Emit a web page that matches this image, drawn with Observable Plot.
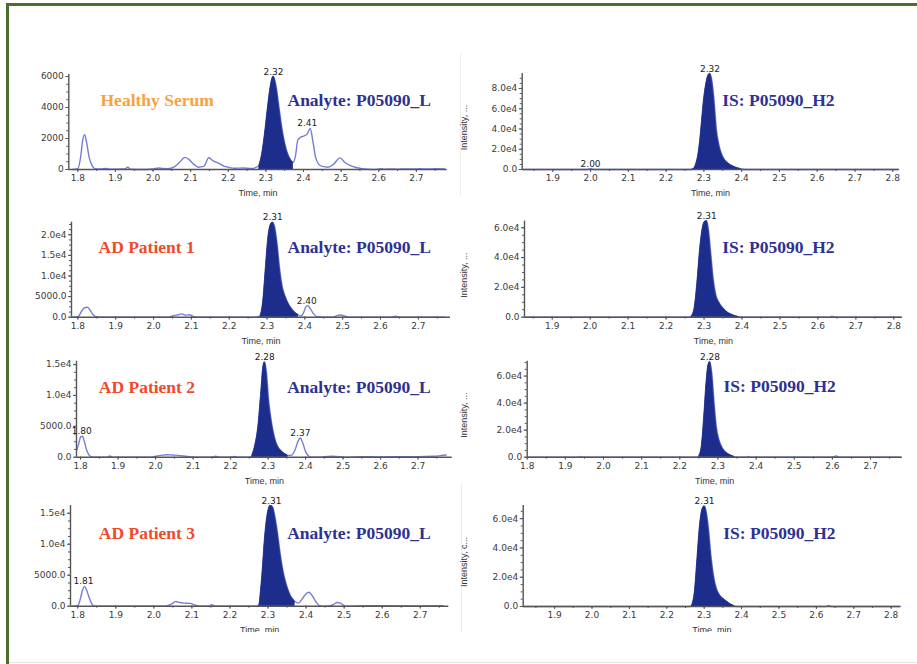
<!DOCTYPE html>
<html><head><meta charset="utf-8">
<script src="https://cdn.jsdelivr.net/npm/d3@7"></script>
<script src="https://cdn.jsdelivr.net/npm/@observablehq/plot@0.6"></script>
<style>
html,body{margin:0;padding:0;background:#fff;}
#page{position:relative;width:917px;height:664px;overflow:hidden;background:#fff;}
.cell{position:absolute;overflow:hidden;}
.deco{position:absolute;}
</style></head><body>
<div id="page"></div>
<script>
// ---------- DATA ----------
const samples = ["Healthy Serum", "AD Patient 1", "AD Patient 2", "AD Patient 3"];
const sampleColors = ["#f6a23f", "#ef4a2b", "#ef4a2b", "#ef4a2b"];
const analyteTitle = "Analyte: P05090_L";
const isTitle = "IS: P05090_H2";
const xAxisTitle = "Time, min";
const yAxisTitles = ["Intensity, ...", "Intensity, ...", "Intensity, ...", "Intensity, c..."];

const xTicksA = [1.8, 1.9, 2.0, 2.1, 2.2, 2.3, 2.4, 2.5, 2.6, 2.7];
const xTicksB = [1.9, 2.0, 2.1, 2.2, 2.3, 2.4, 2.5, 2.6, 2.7, 2.8];

const yTicksHealthy = [0, 2000, 4000, 6000];
const yLabelsHealthy = ["0", "2000", "4000", "6000"];
const yTicksIS8 = [0, 20000, 40000, 60000, 80000];
const yLabelsIS8 = ["0.0", "2.0e4", "4.0e4", "6.0e4", "8.0e4"];
const yTicksIS6 = [0, 20000, 40000, 60000];
const yLabelsIS6 = ["0.0", "2.0e4", "4.0e4", "6.0e4"];
const yTicksAd1 = [0, 5000, 10000, 15000, 20000];
const yLabelsAd1 = ["0.0", "5000.0", "1.0e4", "1.5e4", "2.0e4"];
const yTicksAd23 = [0, 5000, 10000, 15000];
const yLabelsAd23 = ["0.0", "5000.0", "1.0e4", "1.5e4"];

// Healthy serum, analyte
const healthyAnalyteTime = [1.785,1.800,1.808,1.813,1.818,1.823,1.830,1.838,1.845,1.860,1.875,1.890,1.925,1.933,1.940,1.980,2.000,2.015,2.025,2.040,2.055,2.070,2.085,2.095,2.110,2.120,2.135,2.148,2.160,2.175,2.190,2.200,2.215,2.240,2.260,2.275,2.283,2.290,2.297,2.305,2.313,2.320,2.327,2.335,2.343,2.350,2.358,2.365,2.372,2.378,2.385,2.393,2.400,2.410,2.418,2.425,2.432,2.440,2.450,2.465,2.480,2.497,2.510,2.525,2.540,2.555,2.570,2.590,2.605,2.615,2.630,2.650,2.670,2.690,2.710,2.730,2.750,2.775];
const healthyAnalyteInt  = [0,50,900,1900,2250,1800,800,250,60,30,60,20,30,150,20,0,30,100,60,50,150,450,780,650,300,150,200,760,550,400,200,150,80,100,60,150,300,1000,2200,3900,5400,6000,5400,4000,2600,1700,1000,650,450,800,1900,2100,2150,2300,2650,1800,800,350,200,150,350,750,450,250,130,60,20,0,50,20,40,20,40,30,50,30,50,40];
const healthyAnalyteFill = [2.283, 2.372];
const healthyAnalytePeaks = [{t: 2.320, v: 6000, label: "2.32"}, {t: 2.410, v: 2650, label: "2.41"}];

// Healthy serum, internal standard
const healthyIsTime = [1.820,1.990,1.995,2.000,2.005,2.010,2.270,2.275,2.280,2.285,2.290,2.295,2.300,2.306,2.312,2.316,2.321,2.327,2.333,2.340,2.347,2.355,2.363,2.372,2.380,2.390,2.398,2.410,2.816];
const healthyIsInt  = [0,0,400,800,300,0,0,1500,6000,14000,28000,48000,68000,84000,93000,94500,88000,68000,40000,24000,15000,9500,6500,4000,2500,1200,500,0,0];
const healthyIsFill = [2.270, 2.400];
const healthyIsPeaks = [{t: 2.316, v: 94500, label: "2.32"}, {t: 2.000, v: 800, label: "2.00"}];

// AD patient 1, analyte
const ad1AnalyteTime = [1.785,1.800,1.810,1.818,1.825,1.833,1.840,1.848,1.860,2.040,2.050,2.065,2.075,2.085,2.095,2.105,2.115,2.270,2.283,2.290,2.296,2.303,2.310,2.315,2.321,2.327,2.333,2.340,2.348,2.356,2.365,2.374,2.382,2.390,2.397,2.403,2.408,2.415,2.423,2.433,2.450,2.475,2.485,2.495,2.505,2.515,2.630,2.640,2.650,2.770];
const ad1AnalyteInt  = [0,100,1500,2300,2400,1600,600,100,0,0,300,600,800,500,600,200,0,0,300,4000,11000,19000,22500,23000,21500,17500,12000,7500,5000,3300,2000,1100,600,300,1200,2600,2800,2000,800,100,0,0,400,550,300,0,0,250,0,0];
const ad1AnalyteFill = [2.283, 2.382];
const ad1AnalytePeaks = [{t: 2.315, v: 23000, label: "2.31"}, {t: 2.405, v: 2800, label: "2.40"}];

// AD patient 1, internal standard
const ad1IsTime = [1.830,2.260,2.268,2.275,2.282,2.289,2.296,2.302,2.307,2.312,2.318,2.324,2.331,2.340,2.350,2.360,2.370,2.380,2.390,2.400,2.630,2.637,2.645,2.820];
const ad1IsInt  = [0,0,800,6000,22000,44000,59000,64000,64500,58000,42000,26000,15000,9500,6000,3500,2000,900,300,0,0,600,0,0];
const ad1IsFill = [2.265, 2.395];
const ad1IsPeaks = [{t: 2.307, v: 64500, label: "2.31"}];

// AD patient 2, analyte
const ad2AnalyteTime = [1.790,1.795,1.800,1.805,1.810,1.817,1.825,1.835,1.870,1.878,1.886,1.990,2.000,2.015,2.030,2.045,2.060,2.075,2.090,2.105,2.150,2.160,2.170,2.200,2.210,2.220,2.250,2.258,2.266,2.274,2.281,2.287,2.291,2.296,2.301,2.307,2.314,2.321,2.329,2.337,2.345,2.352,2.362,2.372,2.380,2.386,2.393,2.400,2.408,2.415,2.440,2.450,2.470,2.490,2.510,2.550,2.600,2.650,2.700,2.740,2.760,2.775];
const ad2AnalyteInt  = [1200,2200,3300,3400,2500,1000,200,0,0,200,0,0,150,300,400,350,300,200,100,0,0,150,0,0,120,0,0,300,2000,5000,10000,14500,15400,13500,9500,6500,4000,2400,1400,900,500,300,300,1200,2600,3100,2200,900,200,0,0,100,150,100,0,80,50,100,80,150,250,350];
const ad2AnalyteFill = [2.258, 2.352];
const ad2AnalytePeaks = [{t: 1.803, v: 3400, label: "1.80"}, {t: 2.291, v: 15400, label: "2.28"}, {t: 2.386, v: 3100, label: "2.37"}];

// AD patient 2, internal standard
const ad2IsTime = [1.800,1.935,1.940,1.945,2.245,2.252,2.258,2.264,2.270,2.275,2.279,2.284,2.290,2.296,2.303,2.312,2.322,2.332,2.342,2.350,2.375,2.380,2.385,2.600,2.610,2.620,2.780];
const ad2IsInt  = [0,0,600,0,0,1500,9000,30000,55000,68000,70500,62000,40000,22000,12500,6500,3200,1500,400,0,0,500,0,0,900,0,0];
const ad2IsFill = [2.250, 2.345];
const ad2IsPeaks = [{t: 2.279, v: 70500, label: "2.28"}];

// AD patient 3, analyte
const ad3AnalyteTime = [1.785,1.800,1.807,1.813,1.818,1.824,1.831,1.838,1.845,2.030,2.045,2.058,2.068,2.080,2.095,2.108,2.120,2.145,2.152,2.160,2.270,2.278,2.285,2.292,2.299,2.306,2.312,2.318,2.325,2.332,2.340,2.348,2.356,2.364,2.370,2.380,2.390,2.400,2.407,2.415,2.425,2.435,2.450,2.470,2.482,2.490,2.500,2.510,2.560,2.580,2.700,2.760];
const ad3AnalyteInt  = [0,100,1200,2700,3200,2500,1200,300,0,0,300,750,600,500,450,200,0,0,250,0,0,400,5000,11000,14800,16200,16000,14500,11800,8500,5500,3500,2100,1200,800,500,1200,2000,2250,1800,800,100,0,200,600,500,100,0,100,80,60,80];
const ad3AnalyteFill = [2.276, 2.370];
const ad3AnalytePeaks = [{t: 1.815, v: 3200, label: "1.81"}, {t: 2.309, v: 16200, label: "2.31"}];

// AD patient 3, internal standard
const ad3IsTime = [1.816,2.260,2.268,2.275,2.282,2.289,2.296,2.301,2.306,2.312,2.318,2.325,2.333,2.342,2.352,2.362,2.372,2.380,2.390,2.625,2.632,2.640,2.825];
const ad3IsInt  = [0,0,1000,10000,33000,56000,67000,68500,64000,52000,35000,21000,12000,7500,5000,3000,1300,400,0,0,700,0,0];
const ad3IsFill = [2.265, 2.385];
const ad3IsPeaks = [{t: 2.301, v: 68500, label: "2.31"}];

const xDomains = [[1.776, 2.782], [1.819, 2.816], [1.783, 2.785], [1.827, 2.822], [1.789, 2.791], [1.800, 2.783], [1.781, 2.775], [1.816, 2.825]];
const yAxisMax = [6130, 94800, 23050, 64400, 15550, 71000, 16250, 69000];

// ---------- STYLE / LAYOUT ----------
const traceColor = "#767dd6";
const peakColor = "#1c2d8c";
const axisColor = "#555";
const tickText = "#3a3a3a";
const titleBlue = "#2e3192";
const serif = "'Liberation Serif', 'Times New Roman', serif";
const sans = "'DejaVu Sans', sans-serif";

const page = document.getElementById("page");

function deco(l, t, w, h, c) {
  const d = document.createElement("div");
  d.className = "deco";
  Object.assign(d.style, {left: l + "px", top: t + "px", width: w + "px", height: h + "px", background: c});
  page.appendChild(d);
}

function panel(cfg) {
  const svgTop = Math.round(cfg.top - 34);
  const svgBottom = cfg.clipBottom ?? Math.round(cfg.y0 + 32);
  const W = cfg.svgW, H = svgBottom - svgTop;
  const data = cfg.time.map((t, k) => ({t, v: cfg.inten[k]}));
  const fillData = data.filter(d => d.t >= cfg.fill[0] && d.t <= cfg.fill[1]);
  const labelMap = new Map(cfg.yTicks.map((v, k) => [v, cfg.yLabels[k]]));
  const [x0, x1] = cfg.xDomain;
  const minorX = d3.range(Math.ceil(x0 * 20) / 20, x1, 0.05).map(v => +v.toFixed(3));
  const ystep = cfg.yTicks[1] / 4;
  const minorY = d3.range(0, cfg.yMax, ystep);
  const marks = [
    Plot.lineY(data, {x: "t", y: "v", stroke: traceColor, strokeWidth: 1.4, curve: "monotone-x"}),
    Plot.areaY(fillData, {x: "t", y: "v", fill: peakColor, stroke: peakColor, strokeWidth: 0.8, curve: "monotone-x"}),
    Plot.ruleY([0], {stroke: axisColor, strokeWidth: 1.4}),
    Plot.ruleX([x0], {stroke: axisColor, strokeWidth: 1.4}),
    Plot.axisX({ticks: minorX, tickSize: 2, tickFormat: () => "", stroke: axisColor, label: null}),
    Plot.axisX({ticks: cfg.xTicks, tickSize: 3, tickPadding: 2, tickFormat: d => d.toFixed(1),
      stroke: axisColor, fill: tickText, fontSize: 9, fontFamily: sans, label: null}),
    Plot.axisY({ticks: minorY, tickSize: 2, tickFormat: () => "", stroke: axisColor, label: null}),
    Plot.axisY({ticks: cfg.yTicks, tickSize: 3, tickPadding: 2, tickFormat: d => labelMap.get(d),
      stroke: axisColor, fill: tickText, fontSize: 9, fontFamily: sans, label: null}),
    Plot.text(cfg.peaks, {x: "t", y: "v", text: "label", dy: -2, lineAnchor: "bottom",
      fill: "#222", fontSize: 9, fontFamily: sans}),
    Plot.text([xAxisTitle], {text: d => d, frameAnchor: "bottom", dy: 24, lineAnchor: "middle",
      fill: "#333", fontSize: 9, fontFamily: "'Liberation Sans', Arial, sans-serif"}),
    Plot.text([cfg.title], {text: d => d, frameAnchor: "top-left", dx: cfg.titleX - cfg.left, dy: cfg.titleY - cfg.top,
      textAnchor: "start", lineAnchor: "middle", fill: titleBlue, fontSize: 17.5, fontWeight: "bold", fontFamily: serif})
  ];
  if (cfg.sample) {
    marks.push(Plot.text([cfg.sample], {text: d => d, frameAnchor: "top-left", dx: cfg.sampleX - cfg.left, dy: cfg.titleY - cfg.top,
      textAnchor: "start", lineAnchor: "middle", fill: cfg.sampleColor, fontSize: 17.5, fontWeight: "bold", fontFamily: serif}));
  }
  if (cfg.yTitle) {
    marks.push(Plot.text([cfg.yTitle], {text: d => d, frameAnchor: "left", dx: cfg.yTitleX - cfg.left, dy: 6, rotate: -90,
      textAnchor: "middle", lineAnchor: "middle", fill: "#333", fontSize: 9, fontFamily: "'Liberation Sans', Arial, sans-serif"}));
  }
  const svg = Plot.plot({
    width: W, height: H,
    marginLeft: cfg.left - cfg.svgLeft,
    marginRight: cfg.svgLeft + W - cfg.right,
    marginTop: cfg.top - svgTop,
    marginBottom: svgTop + H - cfg.y0,
    x: {domain: cfg.xDomain},
    y: {domain: [0, cfg.yMax]},
    style: {background: "transparent", overflow: "visible"},
    marks
  });
  const wrap = document.createElement("div");
  wrap.className = "cell";
  Object.assign(wrap.style, {left: cfg.svgLeft + "px", top: svgTop + "px", width: W + "px", height: H + "px"});
  wrap.appendChild(svg);
  page.appendChild(wrap);
}

// frame decorations
deco(6, 3, 911, 3, "#4b6e30");
deco(6, 3, 3, 661, "#4b6e30");
deco(9, 662, 908, 1, "#e4e4e4");
deco(460, 53, 1, 143, "#eeeee6");
deco(461, 483, 1, 149, "#eeeee6");

const L = {svgLeft: 0, svgW: 460};
const R = {svgLeft: 455, svgW: 462};

// row geometry (frame left/right/top/zero-line) per panel
const geo = [
  {left: 68.3, right: 446.7, top: 74, y0: 169, titleY: 100},
  {left: 521.7, right: 898.3, top: 73, y0: 169, titleY: 100},
  {left: 71, right: 450, top: 221.7, y0: 316.7, titleY: 246.7},
  {left: 524, right: 901.7, top: 220.7, y0: 316.7, titleY: 246.7},
  {left: 76, right: 451.7, top: 360.7, y0: 456.7, titleY: 386.7},
  {left: 526.7, right: 901.7, top: 360.7, y0: 456.7, titleY: 385.5},
  {left: 70, right: 448.3, top: 505, y0: 605.7, titleY: 532.7, clipBottom: 632},
  {left: 522.7, right: 900, top: 505, y0: 606, titleY: 533.3, clipBottom: 632}
];

const series = [
  {time: healthyAnalyteTime, inten: healthyAnalyteInt, fill: healthyAnalyteFill, peaks: healthyAnalytePeaks, yTicks: yTicksHealthy, yLabels: yLabelsHealthy, xTicks: xTicksA},
  {time: healthyIsTime, inten: healthyIsInt, fill: healthyIsFill, peaks: healthyIsPeaks, yTicks: yTicksIS8, yLabels: yLabelsIS8, xTicks: xTicksB},
  {time: ad1AnalyteTime, inten: ad1AnalyteInt, fill: ad1AnalyteFill, peaks: ad1AnalytePeaks, yTicks: yTicksAd1, yLabels: yLabelsAd1, xTicks: xTicksA},
  {time: ad1IsTime, inten: ad1IsInt, fill: ad1IsFill, peaks: ad1IsPeaks, yTicks: yTicksIS6, yLabels: yLabelsIS6, xTicks: xTicksB},
  {time: ad2AnalyteTime, inten: ad2AnalyteInt, fill: ad2AnalyteFill, peaks: ad2AnalytePeaks, yTicks: yTicksAd23, yLabels: yLabelsAd23, xTicks: xTicksA},
  {time: ad2IsTime, inten: ad2IsInt, fill: ad2IsFill, peaks: ad2IsPeaks, yTicks: yTicksIS6, yLabels: yLabelsIS6, xTicks: xTicksA},
  {time: ad3AnalyteTime, inten: ad3AnalyteInt, fill: ad3AnalyteFill, peaks: ad3AnalytePeaks, yTicks: yTicksAd23, yLabels: yLabelsAd23, xTicks: xTicksA},
  {time: ad3IsTime, inten: ad3IsInt, fill: ad3IsFill, peaks: ad3IsPeaks, yTicks: yTicksIS6, yLabels: yLabelsIS6, xTicks: xTicksB}
];

const titleXs = [287, 721.7, 287, 721.7, 286.7, 723, 286.7, 722.7];
const sampleXs = [100, 98, 98.3, 98.3];

series.forEach((s, k) => {
  const row = Math.floor(k / 2), isRight = k % 2 === 1;
  panel({
    ...(isRight ? R : L), ...geo[k], ...s,
    xDomain: xDomains[k], yMax: yAxisMax[k],
    title: isRight ? isTitle : analyteTitle,
    titleX: titleXs[k],
    sample: isRight ? null : samples[row],
    sampleColor: sampleColors[row],
    sampleX: sampleXs[row],
    yTitle: isRight ? yAxisTitles[row] : null,
    yTitleX: 464
  });
});
</script>
</body></html>
